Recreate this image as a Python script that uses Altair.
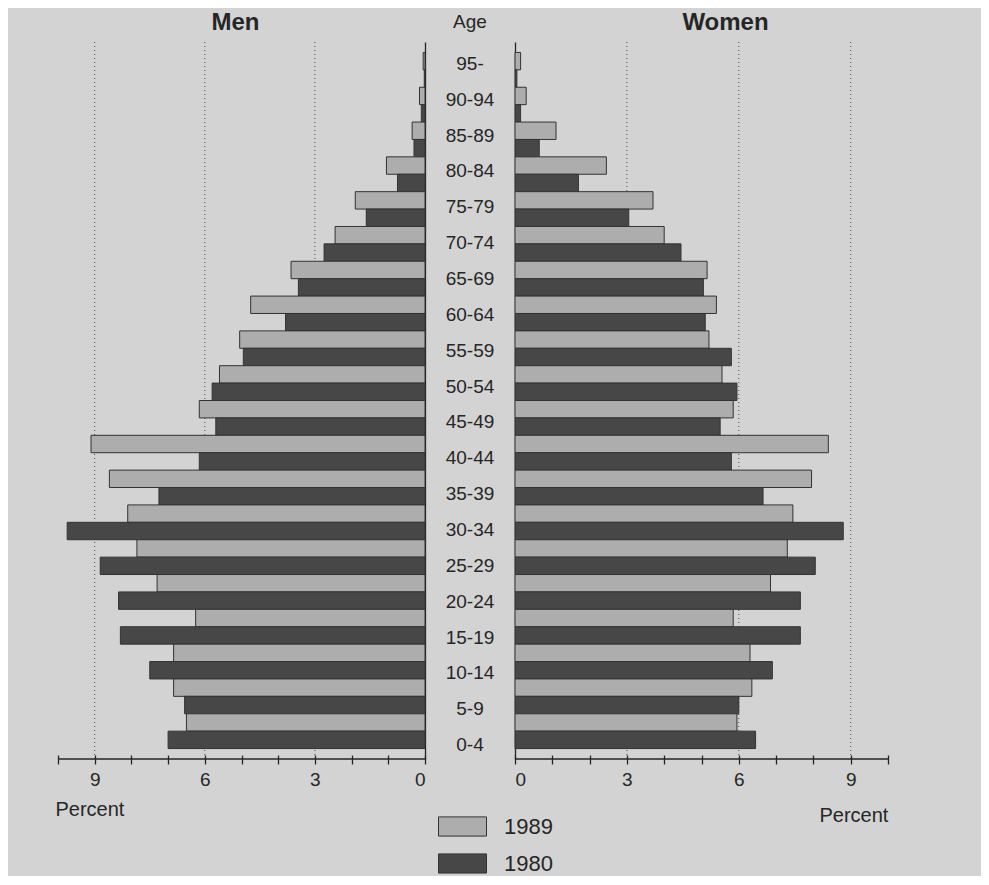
import altair as alt
import pandas as pd

ages = ["95-", "90-94", "85-89", "80-84", "75-79", "70-74", "65-69", "60-64",
        "55-59", "50-54", "45-49", "40-44", "35-39", "30-34", "25-29", "20-24",
        "15-19", "10-14", "5-9", "0-4"]
years = ["1989", "1980"]

men_1989 = [0.05, 0.15, 0.35, 1.05, 1.9, 2.45, 3.65, 4.75, 5.05, 5.6, 6.15, 9.1,
            8.6, 8.1, 7.85, 7.3, 6.25, 6.85, 6.85, 6.5]
men_1980 = [0.02, 0.1, 0.3, 0.75, 1.6, 2.75, 3.45, 3.8, 4.95, 5.8, 5.7, 6.15,
            7.25, 9.75, 8.85, 8.35, 8.3, 7.5, 6.55, 7.0]
women_1989 = [0.15, 0.3, 1.1, 2.45, 3.7, 4.0, 5.15, 5.4, 5.2, 5.55, 5.85, 8.4,
              7.95, 7.45, 7.3, 6.85, 5.85, 6.3, 6.35, 5.95]
women_1980 = [0.05, 0.15, 0.65, 1.7, 3.05, 4.45, 5.05, 5.1, 5.8, 5.95, 5.5, 5.8,
              6.65, 8.8, 8.05, 7.65, 7.65, 6.9, 6.0, 6.45]

grid_values = [3, 6, 9]
tick_values = list(range(11))

BG = "#d3d3d3"
LIGHT = "#adadad"
DARK = "#474747"
INK = "#262626"
FONT = "Liberation Sans"

H = 717
WM = 367
WC = 90
WW = 373


def frame(v89, v80):
    rows = []
    for a, p, q in zip(ages, v89, v80):
        rows.append({"age": a, "year": "1989", "value": p})
        rows.append({"age": a, "year": "1980", "value": q})
    return pd.DataFrame(rows)


y_scale = alt.Scale(domain=ages, paddingInner=0, paddingOuter=0.3)
color_scale = alt.Scale(domain=years, range=[LIGHT, DARK])


def side(df, reverse, y_orient, title_x, title_y, legend):
    xs = alt.Scale(domain=[0, 10], reverse=reverse, nice=False)
    xaxis = alt.Axis(values=tick_values,
                     labelExpr="datum.value % 3 == 0 ? datum.label : ''",
                     domain=False, grid=False, ticks=True, tickSize=9, offset=-4,
                     tickColor=INK, tickWidth=1.3, labelColor=INK,
                     labelFontSize=19, labelPadding=6, labelFont=FONT,
                     title="Percent", titleX=title_x, titleY=title_y,
                     titleAlign="left", titleBaseline="alphabetic",
                     titleFontSize=20, titleFontWeight="normal",
                     titleColor=INK, titleFont=FONT)
    grid = alt.Chart(pd.DataFrame({"value": grid_values})).mark_rule(
        color="#4a4a4a", strokeDash=[1, 3], strokeWidth=1
    ).encode(x=alt.X("value:Q", scale=xs, axis=xaxis))
    bars = alt.Chart(df).mark_bar(stroke="#333333", strokeWidth=1).encode(
        x=alt.X("value:Q", scale=xs, axis=xaxis),
        y=alt.Y("age:N", scale=y_scale,
                axis=alt.Axis(orient=y_orient, labels=False, ticks=False,
                              title=None, domain=True, domainColor=INK,
                              domainWidth=1.3, grid=False)),
        yOffset=alt.YOffset("year:N", scale=alt.Scale(domain=years, paddingInner=0,
                                                      paddingOuter=0)),
        color=alt.Color("year:N", scale=color_scale, legend=legend),
    )
    base = alt.Chart(pd.DataFrame({"value": [0], "value2": [10]})).mark_rule(
        color=INK, strokeWidth=1.3
    ).encode(x=alt.X("value:Q", scale=xs, axis=xaxis), x2="value2:Q",
             y=alt.value(H))
    return alt.layer(grid, bars, base)


legend = alt.Legend(title=None, orient="none", legendX=-77, legendY=760,
                    direction="vertical",
                    symbolType="M-1,-0.4H1V0.4H-1Z", symbolSize=2304,
                    symbolStrokeColor="#333333", symbolStrokeWidth=1,
                    symbolOpacity=1,
                    labelFontSize=22, labelFont=FONT, labelColor=INK,
                    labelOffset=17, rowPadding=-4, padding=0)

men = side(frame(men_1989, men_1980), True, "right", -3, 60, None).properties(
    width=WM, height=H,
    title=alt.Title("Men", fontSize=24, fontWeight="bold", font=FONT,
                    color=INK, offset=7, dx=-6))

women = side(frame(women_1989, women_1980), False, "left", 304, 66, legend).properties(
    width=WW, height=H,
    title=alt.Title("Women", fontSize=24, fontWeight="bold", font=FONT,
                    color=INK, offset=7, dx=24))

mid = alt.Chart(pd.DataFrame({"age": ages})).mark_text(
    fontSize=19, font=FONT, color=INK, dy=4, fontWeight=500
).encode(
    y=alt.Y("age:N", scale=y_scale, axis=None),
    x=alt.value(WC / 2),
    text="age:N",
).properties(width=WC, height=H,
             title=alt.Title("Age", fontSize=19, fontWeight="normal", font=FONT,
                             color=INK, offset=10))

chart = alt.hconcat(men, mid, women, spacing=0, bounds="flush").resolve_scale(
    color="independent", x="independent", y="independent"
).properties(
    padding={"left": 47, "top": 2, "right": 92, "bottom": 0},
    background=BG,
).configure_view(stroke=None)

chart.save("out.html", embed_options={"renderer": "svg", "actions": False})
